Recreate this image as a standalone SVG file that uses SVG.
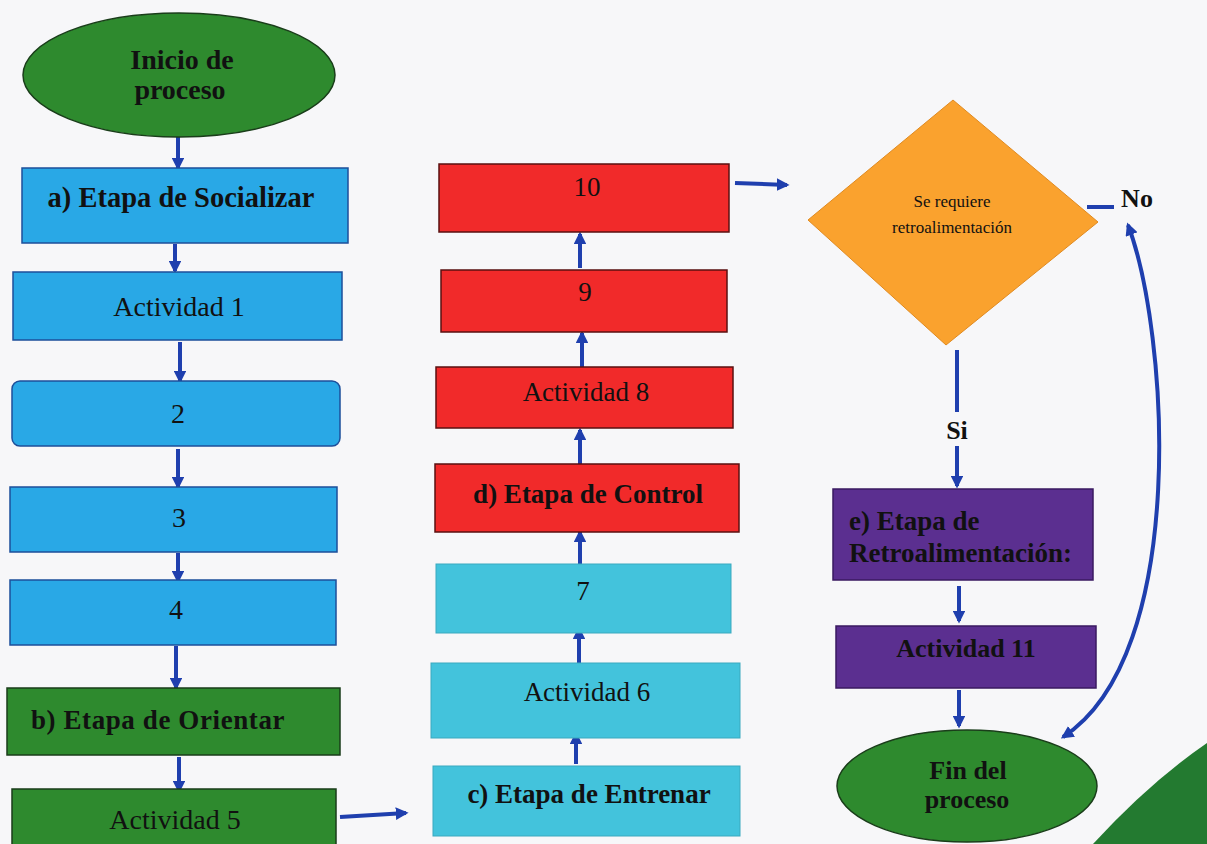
<svg xmlns="http://www.w3.org/2000/svg" width="1207" height="844" viewBox="0 0 1207 844">
<defs>
<marker id="ah" viewBox="0 0 10 10" refX="8" refY="5" markerWidth="3.2" markerHeight="3.2" orient="auto-start-reverse" markerUnits="strokeWidth">
<path d="M0,0 L10,5 L0,10 Z" fill="#1f3fae"/>
</marker>
<style>
.t{font-family:"Liberation Serif","Times New Roman",serif;text-anchor:middle;fill:#111;}
.b{font-weight:bold;}
.c{stroke:#1f3fae;stroke-width:4;fill:none;}
.ca{stroke:#1f3fae;stroke-width:4;fill:none;marker-end:url(#ah);}
.blue{fill:#29a8e6;stroke:#1d4f9a;stroke-width:1.5;}
.green{fill:#2e8a2e;stroke:#1a3d1a;stroke-width:1.5;}
.cyan{fill:#43c3dc;stroke:#3aa9bf;stroke-width:1;}
.red{fill:#f12a2a;stroke:#5a1010;stroke-width:1.5;}
.purple{fill:#5b2f90;stroke:#3a1a60;stroke-width:1.5;}
.orange{fill:#faa22e;stroke:#e08a20;stroke-width:1;}
</style>
</defs>
<rect width="1207" height="844" fill="#f7f7f9"/>
<path d="M1093 844 Q1150 782 1207 743 L1207 844 Z" fill="#237a30"/>

<g id="connectors">
<line class="ca" x1="178" y1="137" x2="178" y2="168"/>
<line class="ca" x1="175" y1="244" x2="175" y2="271"/>
<line class="ca" x1="180" y1="342" x2="180" y2="381"/>
<line class="ca" x1="178" y1="449" x2="178" y2="487"/>
<line class="ca" x1="178" y1="553" x2="178" y2="581"/>
<line class="ca" x1="176" y1="646" x2="176" y2="688"/>
<line class="ca" x1="179" y1="757" x2="179" y2="791"/>
<line class="ca" x1="340" y1="817" x2="406" y2="813"/>
<line class="ca" x1="576" y1="764" x2="576" y2="734"/>
<line class="ca" x1="579" y1="665" x2="579" y2="629"/>
<line class="ca" x1="580" y1="566" x2="580" y2="532"/>
<line class="ca" x1="580" y1="466" x2="580" y2="430"/>
<line class="ca" x1="582" y1="369" x2="582" y2="333"/>
<line class="ca" x1="580" y1="268" x2="580" y2="234"/>
<line class="ca" x1="735" y1="183" x2="787" y2="185"/>
<line class="c" x1="1087" y1="207" x2="1114" y2="207"/>
<line class="c" x1="957" y1="350" x2="957" y2="412"/>
<line class="ca" x1="957" y1="446" x2="957" y2="486"/>
<line class="ca" x1="959" y1="586" x2="959" y2="621"/>
<line class="ca" x1="959" y1="690" x2="959" y2="726"/>
<path class="c" d="M1063 737 C1190 655 1168 330 1128 225" marker-start="url(#ah)" marker-end="url(#ah)" stroke-width="3"/>
</g>

<g id="inicio">
<ellipse class="green" cx="179" cy="75" rx="156" ry="62"/>
<text class="t b" x="182" y="69" font-size="28">Inicio de</text>
<text class="t b" x="180" y="99" font-size="28">proceso</text>
</g>
<g id="socializar">
<rect class="blue" x="22" y="168" width="326" height="75"/>
<text class="t b" x="181" y="207" font-size="28.5">a) Etapa de Socializar</text>
</g>
<g id="act1">
<rect class="blue" x="13" y="272" width="329" height="68"/>
<text class="t" x="179" y="316" font-size="28">Actividad 1</text>
</g>
<g id="n2">
<rect class="blue" x="12" y="381" width="328" height="65" rx="8"/>
<text class="t" x="178" y="423" font-size="28">2</text>
</g>
<g id="n3">
<rect class="blue" x="10" y="487" width="327" height="65"/>
<text class="t" x="179" y="527" font-size="28">3</text>
</g>
<g id="n4">
<rect class="blue" x="10" y="580" width="326" height="65"/>
<text class="t" x="176" y="619" font-size="28">4</text>
</g>
<g id="orientar">
<rect class="green" x="7" y="688" width="333" height="67"/>
<text class="t b" x="158" y="729" font-size="27" letter-spacing="0.6">b) Etapa de Orientar</text>
</g>
<g id="act5">
<rect class="green" x="12" y="789" width="324" height="60"/>
<text class="t" x="175" y="829" font-size="28" fill="#1a2a1a">Actividad 5</text>
</g>
<g id="entrenar">
<rect class="cyan" x="433" y="766" width="307" height="70"/>
<text class="t b" x="589" y="803" font-size="27">c) Etapa de Entrenar</text>
</g>
<g id="act6">
<rect class="cyan" x="431" y="663" width="309" height="75"/>
<text class="t" x="587" y="701" font-size="27">Actividad 6</text>
</g>
<g id="n7">
<rect class="cyan" x="436" y="564" width="295" height="69"/>
<text class="t" x="583" y="600" font-size="27">7</text>
</g>
<g id="control">
<rect class="red" x="435" y="464" width="304" height="68"/>
<text class="t b" x="588" y="503" font-size="27">d) Etapa de Control</text>
</g>
<g id="act8">
<rect class="red" x="436" y="367" width="297" height="61"/>
<text class="t" x="586" y="401" font-size="27" fill="#3a1010">Actividad 8</text>
</g>
<g id="n9">
<rect class="red" x="441" y="270" width="286" height="62"/>
<text class="t" x="585" y="301" font-size="27" fill="#3a1010">9</text>
</g>
<g id="n10">
<rect class="red" x="439" y="164" width="290" height="68"/>
<text class="t" x="587" y="196" font-size="27" fill="#3a1010">10</text>
</g>
<g id="decision">
<polygon class="orange" points="953,100 1098,222 946,345 808,220"/>
<text class="t" x="952" y="207" font-size="17">Se requiere</text>
<text class="t" x="952" y="233" font-size="17">retroalimentación</text>
</g>
<text class="t b" x="1137" y="207" font-size="26">No</text>
<text class="t b" x="957" y="439" font-size="26">Si</text>
<g id="retro">
<rect class="purple" x="833" y="489" width="260" height="91"/>
<text class="t b" x="849" y="530" font-size="27" style="text-anchor:start">e) Etapa de</text>
<text class="t b" x="849" y="562" font-size="27" style="text-anchor:start">Retroalimentación:</text>
</g>
<g id="act11">
<rect class="purple" x="836" y="626" width="260" height="62"/>
<text class="t" x="966" y="657" font-size="26" fill="#1a1030" font-weight="600">Actividad 11</text>
</g>
<g id="fin">
<ellipse class="green" cx="967" cy="786" rx="130" ry="56"/>
<text class="t b" x="968" y="779" font-size="26">Fin del</text>
<text class="t b" x="967" y="808" font-size="26">proceso</text>
</g>
</svg>
